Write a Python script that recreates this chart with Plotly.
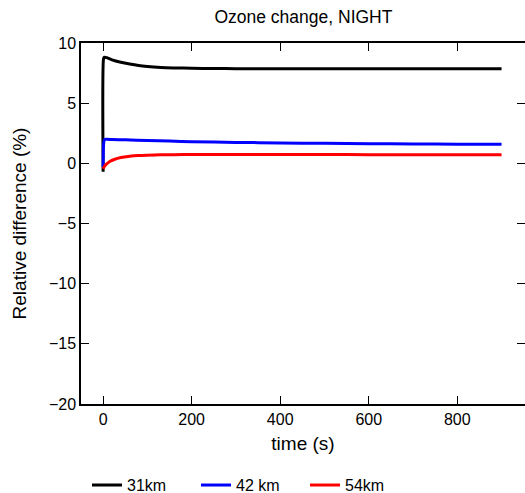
import plotly.graph_objects as go

t_31 = [0, 1, 3, 8, 20, 40, 60, 80, 100, 130, 160, 200, 250, 300, 400, 500, 600, 700, 800, 900]
v_31 = [-0.7, 8.7, 8.82, 8.78, 8.6, 8.4, 8.25, 8.13, 8.05, 7.97, 7.93, 7.9, 7.88, 7.87, 7.86, 7.86, 7.85, 7.85, 7.85, 7.85]

t_42 = [0, 1, 3, 8, 20, 50, 100, 150, 200, 300, 400, 500, 600, 700, 800, 900]
v_42 = [-0.3, 1.6, 1.97, 2.0, 1.98, 1.95, 1.9, 1.85, 1.8, 1.74, 1.7, 1.66, 1.63, 1.61, 1.59, 1.58]

t_54 = [0, 3, 8, 15, 25, 40, 60, 80, 100, 130, 160, 200, 300, 400, 500, 600, 700, 800, 900]
v_54 = [-0.45, -0.25, -0.05, 0.15, 0.32, 0.48, 0.59, 0.65, 0.68, 0.71, 0.72, 0.73, 0.73, 0.73, 0.73, 0.72, 0.72, 0.72, 0.72]

y_ticks = [-20, -15, -10, -5, 0, 5, 10]
y_labels = ["\u221220", "\u221215", "\u221210", "\u22125", "0", "5", "10"]
x_ticks = [0, 200, 400, 600, 800]

names = ["31km", "42 km", "54km"]
colors = ["black", "blue", "red"]

fig = go.Figure()
for t, v, n, c in zip([t_31, t_42, t_54], [v_31, v_42, v_54], names, colors):
    fig.add_trace(go.Scatter(x=t, y=v, mode="lines", name=n,
                             line=dict(color=c, width=3, shape="spline", smoothing=0.6)))

font = dict(family="Liberation Sans, Arial, sans-serif", size=16, color="black")
fig.update_layout(
    width=525, height=493,
    margin=dict(l=81, r=0, t=43, b=89, autoexpand=False),
    paper_bgcolor="white", plot_bgcolor="white",
    font=font,
    title=dict(text="Ozone change, NIGHT", x=0.578, xanchor="center", y=0.965, yanchor="middle",
               font=dict(size=17.5)),
    showlegend=True,
    legend=dict(orientation="h", x=0.0135, xanchor="left", yref="container", y=0.016,
                yanchor="middle", font=dict(size=16), entrywidth=64, entrywidthmode="pixels"),
    xaxis=dict(range=[-50, 953], tickvals=x_ticks, showgrid=False, zeroline=False,
               showline=True, linecolor="black", linewidth=1.5, mirror="ticks",
               ticks="inside", ticklen=8, tickcolor="black", tickwidth=1.2,
               title=dict(text="time (s)", standoff=10)),
    yaxis=dict(range=[-20, 10], tickvals=y_ticks, ticktext=y_labels,
               showgrid=False, zeroline=False,
               showline=True, linecolor="black", linewidth=1.5, mirror=False,
               ticks="inside", ticklen=8, tickcolor="black", tickwidth=1.2,
               title=dict(text="Relative difference (%)", standoff=17)),
    yaxis2=dict(range=[-20, 10], tickvals=y_ticks, overlaying="y", side="right",
                matches="y", showticklabels=False, showgrid=False, zeroline=False,
                showline=False, ticks="inside", ticklen=8, tickcolor="black", tickwidth=1.2),
)
fig.add_trace(go.Scatter(x=[None], y=[None], yaxis="y2", showlegend=False, hoverinfo="skip"))
fig.write_html("out.html")
